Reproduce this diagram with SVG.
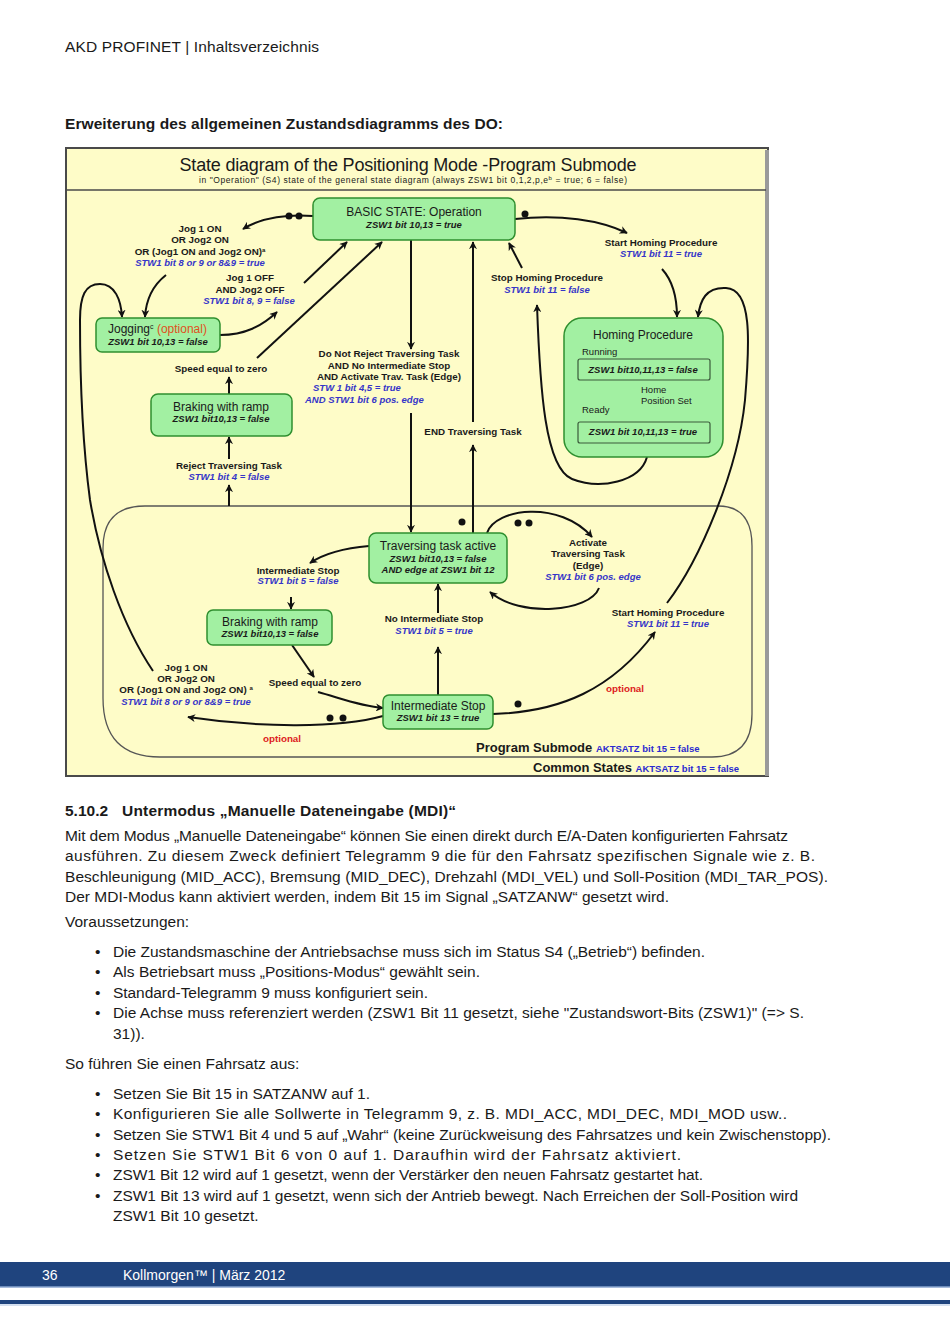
<svg xmlns="http://www.w3.org/2000/svg" width="950" height="1344" viewBox="0 0 950 1344">
<defs>
<style>
.pg{font-family:"Liberation Sans",Arial,sans-serif;font-size:15.5px;fill:#1a1a1a}
.pgb{font-family:"Liberation Sans",Arial,sans-serif;font-size:15.5px;font-weight:bold;fill:#1a1a1a}
.ft{font-family:"Liberation Sans",Arial,sans-serif;font-size:14px;fill:#ffffff}
.lb{font-family:"Liberation Sans",Arial,sans-serif;font-size:9.8px;font-weight:bold;fill:#1a1a1a;text-anchor:middle}
.bl{font-family:"Liberation Sans",Arial,sans-serif;font-size:9.5px;font-weight:bold;font-style:italic;fill:#3535c8;text-anchor:middle}
.bls{font-family:"Liberation Sans",Arial,sans-serif;font-size:9.5px;font-weight:bold;font-style:italic;fill:#3535c8;text-anchor:start}
.nt{font-family:"Liberation Sans",Arial,sans-serif;font-size:12px;fill:#1a1a1a;text-anchor:middle}
.ni{font-family:"Liberation Sans",Arial,sans-serif;font-size:9.5px;font-weight:bold;font-style:italic;fill:#1a1a1a;text-anchor:middle}
.sm{font-family:"Liberation Sans",Arial,sans-serif;font-size:9.5px;fill:#1a1a1a}
.red{font-family:"Liberation Sans",Arial,sans-serif;font-size:9.8px;font-weight:bold;fill:#dd2222;text-anchor:middle}
.node{fill:#a2f0a2;stroke:#2f8f2f;stroke-width:1.5}
.inner{fill:#a2f0a2;stroke:#3a5a3a;stroke-width:1.2}
.ca{fill:none;stroke:#111;stroke-width:2;marker-end:url(#ah)}
.dot{fill:#111}
</style>
<marker id="ah" viewBox="0 0 10 10" refX="9" refY="5" markerWidth="8" markerHeight="8" markerUnits="userSpaceOnUse" orient="auto">
<path d="M0,0 L10,5 L0,10 L3,5 z" fill="#111"/>
</marker>
</defs>
<rect width="950" height="1344" fill="#ffffff"/>

<!-- page header -->
<text class="pg" x="65" y="52" textLength="254" lengthAdjust="spacing">AKD PROFINET | Inhaltsverzeichnis</text>
<text class="pgb" x="65" y="129" textLength="438" lengthAdjust="spacing">Erweiterung des allgemeinen Zustandsdiagramms des DO:</text>

<!-- diagram frame -->
<g id="frame">
<rect x="66" y="148" width="702" height="628" fill="#fefcc8" stroke="#4a4a4a" stroke-width="2"/>
<rect x="765" y="150" width="4" height="626" fill="#9a9a9a"/>
<line x1="66" y1="190" x2="766" y2="190" stroke="#4a4a4a" stroke-width="1.5"/>
<text x="408" y="171" font-family="'Liberation Sans',Arial,sans-serif" font-size="18" fill="#1a1a1a" text-anchor="middle" textLength="457" lengthAdjust="spacing">State diagram of the Positioning Mode -Program Submode</text>
<text x="413" y="183" font-family="'Liberation Sans',Arial,sans-serif" font-size="8.5" fill="#1a1a1a" text-anchor="middle" textLength="428" lengthAdjust="spacing">in "Operation" (S4) state of the general state diagram (always ZSW1 bit 0,1,2,p,e<tspan font-size="6" dy="-3">b</tspan><tspan dy="3"> = true; 6 = false)</tspan></text>
</g>

<!-- program submode region -->
<g id="submode">
<path d="M145,506 L718,506 Q752,506 752,546 L752,714 Q752,757 712,757 L160,757 Q103,757 103,698 L103,548 Q103,506 145,506 Z" fill="none" stroke="#555" stroke-width="1.3"/>
<text x="476" y="752" font-family="'Liberation Sans',Arial,sans-serif" font-size="13" font-weight="bold" fill="#1a1a1a">Program Submode <tspan font-size="9.5" fill="#2a2ad0">AKTSATZ bit 15 = false</tspan></text>
<text x="533" y="772" font-family="'Liberation Sans',Arial,sans-serif" font-size="13" font-weight="bold" fill="#1a1a1a">Common States <tspan font-size="9.5" fill="#2a2ad0">AKTSATZ bit 15 = false</tspan></text>
</g>

<!-- connectors -->
<g id="connectors">
<path class="ca" d="M313,216 C290,214 262,217 243,229"/>
<circle class="dot" cx="289" cy="216" r="3.5"/><circle class="dot" cx="299" cy="216" r="3.5"/>
<path class="ca" d="M166,275 C152,286 146,300 145,317"/>
<path class="ca" d="M153,671 C122,625 100,560 90,500 C82,440 80,380 80,320 C80,296 85,284 100,284 C115,284 121,300 122,317"/>
<path class="ca" d="M220,335 C245,335 262,326 277,312"/>
<path class="ca" d="M304,283 L347,242"/>
<path class="ca" d="M257,358 L382,242"/>
<path class="ca" d="M229,394 L229,377"/>
<path class="ca" d="M229,459 L229,437"/>
<path class="ca" d="M229,506 L229,485"/>
<path class="ca" d="M411,240 L411,349"/>
<path class="ca" d="M411,413 L411,532"/>
<path class="ca" d="M473,533 L473,445"/>
<path class="ca" d="M473,422 L473,242"/>
<circle class="dot" cx="462" cy="522" r="3.5"/>
<path class="ca" d="M522,268 L509,243"/>
<path class="ca" d="M647,457 C640,482 600,490 572,479 C545,468 540,390 537,305"/>
<path class="ca" d="M515,219 C560,214 600,220 627,233"/>
<circle class="dot" cx="525" cy="214" r="3.5"/>
<path class="ca" d="M662,269 C672,280 677,298 677,317"/>
<path class="ca" d="M667,603 C700,560 738,470 745,400 C750,340 752,289 726,288 C706,287 700,300 698,317"/>
<path class="ca" d="M487,533 C495,508 560,500 592,537"/>
<circle class="dot" cx="518" cy="523" r="3.5"/><circle class="dot" cx="529" cy="523" r="3.5"/>
<path class="ca" d="M599,588 C590,612 520,618 490,592"/>
<path class="ca" d="M369,546 C345,548 325,553 310,563"/>
<path class="ca" d="M291,597 L291,609"/>
<path class="ca" d="M292,645 L314,677"/>
<path class="ca" d="M318,692 C340,698 360,706 383,708"/>
<path class="ca" d="M438,695 L438,647"/>
<path class="ca" d="M438,613 L438,584"/>
<path class="ca" d="M383,716 C340,728 260,728 188,717"/>
<circle class="dot" cx="330" cy="718" r="3.5"/><circle class="dot" cx="343" cy="718" r="3.5"/>
<path class="ca" d="M493,714 C560,712 612,690 655,632"/>
<circle class="dot" cx="518" cy="704" r="3.5"/>
<path class="ca" d="M633,380 L633,421"/>
</g>

<!-- nodes -->
<g id="basic-state">
<rect class="node" x="313" y="198" width="202" height="42" rx="7"/>
<text class="nt" x="414" y="216">BASIC STATE: Operation</text>
<text class="ni" x="414" y="228">ZSW1 bit 10,13 = true</text>
</g>
<g id="jogging">
<rect class="node" x="96" y="318" width="124" height="34" rx="6"/>
<text x="108" y="333" font-family="'Liberation Sans',Arial,sans-serif" font-size="12" fill="#1a1a1a">Jogging<tspan font-size="7" dy="-4">c</tspan><tspan dy="4" fill="#e0501e"> (optional)</tspan></text>
<text class="ni" x="158" y="345">ZSW1 bit 10,13 = false</text>
</g>
<g id="braking-top">
<rect class="node" x="151" y="394" width="141" height="42" rx="7"/>
<text class="nt" x="221" y="411">Braking with ramp</text>
<text class="ni" x="221" y="422">ZSW1 bit10,13 = false</text>
</g>
<g id="homing">
<rect class="node" x="564" y="318" width="159" height="139" rx="18"/>
<text class="nt" x="643" y="339">Homing Procedure</text>
<text class="sm" x="582" y="355">Running</text>
<rect class="inner" x="578" y="359" width="132" height="21" rx="2"/>
<text class="ni" x="643" y="373">ZSW1 bit10,11,13 = false</text>
<text class="sm" x="641" y="393">Home</text>
<text class="sm" x="641" y="404">Position Set</text>
<text class="sm" x="582" y="413">Ready</text>
<rect class="inner" x="578" y="422" width="132" height="21" rx="2"/>
<text class="ni" x="643" y="435">ZSW1 bit 10,11,13 = true</text>
</g>
<g id="traversing">
<rect class="node" x="369" y="533" width="138" height="50" rx="7"/>
<text class="nt" x="438" y="550">Traversing task active</text>
<text class="ni" x="438" y="562">ZSW1 bit10,13 = false</text>
<text class="ni" x="438" y="573">AND edge at ZSW1 bit 12</text>
</g>
<g id="braking-bottom">
<rect class="node" x="207" y="610" width="125" height="35" rx="6"/>
<text class="nt" x="270" y="626">Braking with ramp</text>
<text class="ni" x="270" y="637">ZSW1 bit10,13 = false</text>
</g>
<g id="intermediate-stop">
<rect class="node" x="383" y="695" width="110" height="34" rx="6"/>
<text class="nt" x="438" y="710">Intermediate Stop</text>
<text class="ni" x="438" y="721">ZSW1 bit 13 = true</text>
</g>

<!-- connector labels -->
<g id="labels">
<text class="lb" x="200" y="232">Jog 1 ON</text>
<text class="lb" x="200" y="243">OR Jog2 ON</text>
<text class="lb" x="200" y="255">OR (Jog1 ON and Jog2 ON)<tspan font-size="6" dy="-3">a</tspan></text>
<text class="bl" x="200" y="266">STW1 bit 8 or 9 or 8&amp;9 = true</text>
<text class="lb" x="250" y="281">Jog 1 OFF</text>
<text class="lb" x="250" y="293">AND Jog2 OFF</text>
<text class="bl" x="249" y="304">STW1 bit 8, 9 = false</text>
<text class="lb" x="221" y="372">Speed equal to zero</text>
<text class="lb" x="229" y="469">Reject Traversing Task</text>
<text class="bl" x="229" y="480">STW1 bit 4 = false</text>
<text class="lb" x="389" y="357">Do Not Reject Traversing Task</text>
<text class="lb" x="389" y="369">AND No Intermediate Stop</text>
<text class="lb" x="389" y="380">AND Activate Trav. Task (Edge)</text>
<text class="bls" x="313" y="391">STW 1 bit 4,5 = true</text>
<text class="bls" x="305" y="403">AND STW1 bit 6 pos. edge</text>
<text class="lb" x="473" y="435">END Traversing Task</text>
<text class="lb" x="547" y="281">Stop Homing Procedure</text>
<text class="bl" x="547" y="293">STW1 bit 11 = false</text>
<text class="lb" x="661" y="246">Start Homing Procedure</text>
<text class="bl" x="661" y="257">STW1 bit 11 = true</text>
<text class="lb" x="588" y="546">Activate</text>
<text class="lb" x="588" y="557">Traversing Task</text>
<text class="lb" x="588" y="569">(Edge)</text>
<text class="bl" x="593" y="580">STW1 bit 6 pos. edge</text>
<text class="lb" x="298" y="574">Intermediate Stop</text>
<text class="bl" x="298" y="584">STW1 bit 5 = false</text>
<text class="lb" x="434" y="622">No Intermediate Stop</text>
<text class="bl" x="434" y="634">STW1 bit 5 = true</text>
<text class="lb" x="668" y="616">Start Homing Procedure</text>
<text class="bl" x="668" y="627">STW1 bit 11 = true</text>
<text class="lb" x="186" y="671">Jog 1 ON</text>
<text class="lb" x="186" y="682">OR Jog2 ON</text>
<text class="lb" x="186" y="693">OR (Jog1 ON and Jog2 ON) <tspan font-size="6" dy="-3">a</tspan></text>
<text class="bl" x="186" y="705">STW1 bit 8 or 9 or 8&amp;9 = true</text>
<text class="lb" x="315" y="686">Speed equal to zero</text>
<text class="red" x="625" y="692">optional</text>
<text class="red" x="282" y="742">optional</text>
</g>

<!-- body text -->
<g id="body">
<text class="pgb" x="65" y="816">5.10.2</text>
<text class="pgb" x="122" y="816" textLength="334" lengthAdjust="spacing">Untermodus „Manuelle Dateneingabe (MDI)“</text>
<text class="pg" x="65" y="841" textLength="723" lengthAdjust="spacing">Mit dem Modus „Manuelle Dateneingabe“ können Sie einen direkt durch E/A-Daten konfigurierten Fahrsatz</text>
<text class="pg" x="65" y="861" textLength="750" lengthAdjust="spacing">ausführen. Zu diesem Zweck definiert Telegramm 9 die für den Fahrsatz spezifischen Signale wie z. B.</text>
<text class="pg" x="65" y="882" textLength="763" lengthAdjust="spacing">Beschleunigung (MID_ACC), Bremsung (MID_DEC), Drehzahl (MDI_VEL) und Soll-Position (MDI_TAR_POS).</text>
<text class="pg" x="65" y="902" textLength="604" lengthAdjust="spacing">Der MDI-Modus kann aktiviert werden, indem Bit 15 im Signal „SATZANW“ gesetzt wird.</text>
<text class="pg" x="65" y="927">Voraussetzungen:</text>
<text class="pg" x="95" y="957">•</text><text class="pg" x="113" y="957" textLength="592" lengthAdjust="spacing">Die Zustandsmaschine der Antriebsachse muss sich im Status S4 („Betrieb“) befinden.</text>
<text class="pg" x="95" y="977">•</text><text class="pg" x="113" y="977" textLength="367" lengthAdjust="spacing">Als Betriebsart muss „Positions-Modus“ gewählt sein.</text>
<text class="pg" x="95" y="998">•</text><text class="pg" x="113" y="998" textLength="315" lengthAdjust="spacing">Standard-Telegramm 9 muss konfiguriert sein.</text>
<text class="pg" x="95" y="1018">•</text><text class="pg" x="113" y="1018" textLength="691" lengthAdjust="spacing">Die Achse muss referenziert werden (ZSW1 Bit 11 gesetzt, siehe "Zustandswort-Bits (ZSW1)" (=&gt; S.</text>
<text class="pg" x="113" y="1039">31)).</text>
<text class="pg" x="65" y="1069">So führen Sie einen Fahrsatz aus:</text>
<text class="pg" x="95" y="1099">•</text><text class="pg" x="113" y="1099" textLength="257" lengthAdjust="spacing">Setzen Sie Bit 15 in SATZANW auf 1.</text>
<text class="pg" x="95" y="1119">•</text><text class="pg" x="113" y="1119" textLength="674" lengthAdjust="spacing">Konfigurieren Sie alle Sollwerte in Telegramm 9, z. B. MDI_ACC, MDI_DEC, MDI_MOD usw..</text>
<text class="pg" x="95" y="1140">•</text><text class="pg" x="113" y="1140" textLength="718" lengthAdjust="spacing">Setzen Sie STW1 Bit 4 und 5 auf „Wahr“ (keine Zurückweisung des Fahrsatzes und kein Zwischenstopp).</text>
<text class="pg" x="95" y="1160">•</text><text class="pg" x="113" y="1160" textLength="568" lengthAdjust="spacing">Setzen Sie STW1 Bit 6 von 0 auf 1. Daraufhin wird der Fahrsatz aktiviert.</text>
<text class="pg" x="95" y="1180">•</text><text class="pg" x="113" y="1180" textLength="590" lengthAdjust="spacing">ZSW1 Bit 12 wird auf 1 gesetzt, wenn der Verstärker den neuen Fahrsatz gestartet hat.</text>
<text class="pg" x="95" y="1201">•</text><text class="pg" x="113" y="1201" textLength="685" lengthAdjust="spacing">ZSW1 Bit 13 wird auf 1 gesetzt, wenn sich der Antrieb bewegt. Nach Erreichen der Soll-Position wird</text>
<text class="pg" x="113" y="1221">ZSW1 Bit 10 gesetzt.</text>
</g>

<!-- footer -->
<g id="footer">
<rect x="0" y="1262" width="950" height="25" fill="#1f447e"/>
<line x1="0" y1="1287" x2="950" y2="1287" stroke="#8aa6d0" stroke-width="1.5"/>
<rect x="0" y="1300" width="950" height="4" fill="#1f447e"/>
<line x1="0" y1="1305" x2="950" y2="1305" stroke="#a9c0e0" stroke-width="1"/>
<text class="ft" x="42" y="1280">36</text>
<text class="ft" x="123" y="1280">Kollmorgen™ | März 2012</text>
</g>
</svg>
